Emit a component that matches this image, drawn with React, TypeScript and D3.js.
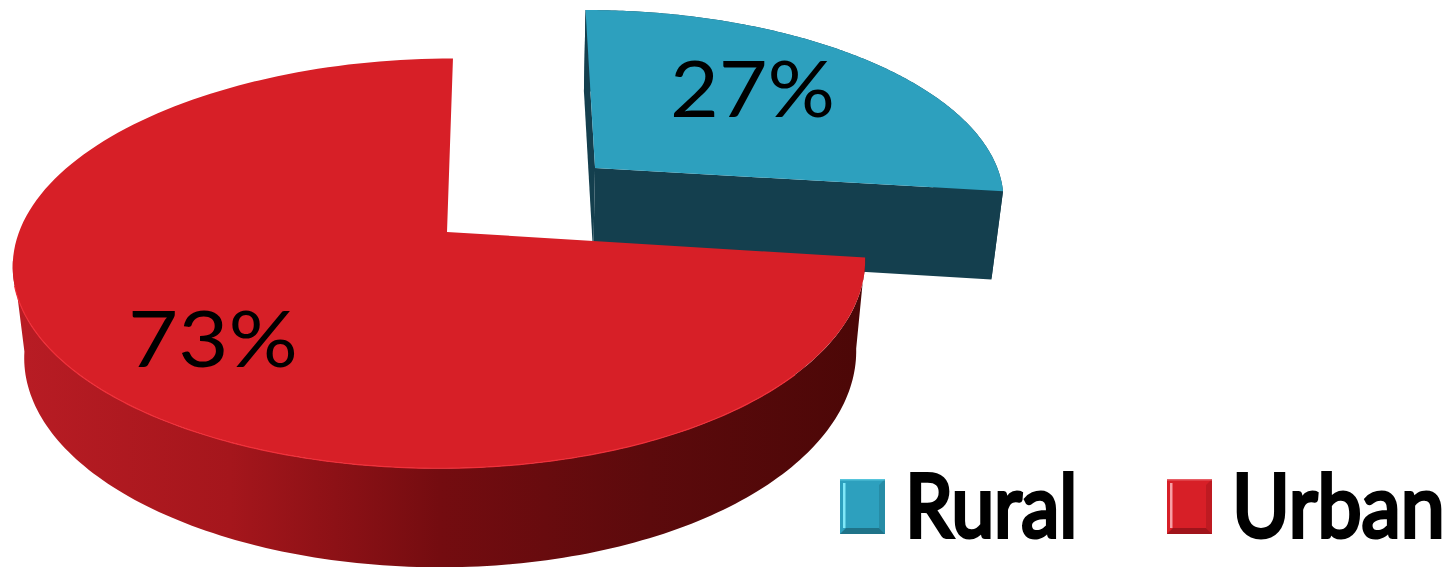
import React from "react";
import * as d3 from "d3";

// Population split shown as an exploded 3D pie.
const categories = ["Rural", "Urban"];
const shares = [27, 73];
const shareLabels = ["27%", "73%"];
const topColors = ["#2da0be", "#d71f27"];
const bevelLight = ["#7fe8f8", "#f7a0a5"];
const bevelDark = ["#1f7389", "#a0141b"];

const WIDTH = 1451;
const HEIGHT = 567;
const FONT = "Lato, 'Open Sans', sans-serif";

// Projection of the pie's flat disc onto the screen.
const DEPTH = 0.153; // how strongly the far rim shrinks
const TOP_HORIZON = -1076;
const TOP_SCALE = 1308;
const BOTTOM_HORIZON = -1036;
const BOTTOM_SCALE = 1358;
const BOTTOM_SHRINK = 0.976;

// Each slice has its own displacement from the explosion.
const sliceOffsets = [
  { vanish: 520, radius: 423, u: 78.9, depth: 0.0514, skew: 0 },
  { vanish: 492, radius: 420.3, u: -45, depth: 0, skew: 0.0162 },
];
const labelAnchors = [
  { x: 752.5, baseline: 117, stretch: 1.08 },
  { x: 213, baseline: 367, stretch: 1.11 },
];
const legendAnchors = [
  { box: 840, text: 905, stretch: 0.87 },
  { box: 1167, text: 1232, stretch: 0.895 },
];

type Offset = { vanish: number; radius: number; u: number; depth: number; skew: number };

const projectTop = (a: number, r: number, o: Offset): [number, number] => {
  const d = 1 + o.depth + DEPTH * r * Math.cos(a);
  const xd = d + o.skew * r * Math.sin(a);
  return [o.vanish + (o.u + o.radius * r * Math.sin(a)) / xd, TOP_HORIZON + TOP_SCALE / d];
};

const projectBottom = (a: number, r: number, o: Offset): [number, number] => {
  const d = 1 + o.depth + DEPTH * r * Math.cos(a);
  const [x] = projectTop(a, r, o);
  return [o.vanish + (x - o.vanish) * BOTTOM_SHRINK, BOTTOM_HORIZON + BOTTOM_SCALE / d];
};

const arcAngles = (a0: number, a1: number) => {
  const n = 160;
  return d3.range(n + 1).map((i) => a0 + ((a1 - a0) * i) / n);
};

const line = d3.line<[number, number]>();

const Swatch = ({ x, i }: { x: number; i: number }) => {
  const y = 479;
  const w = 45;
  const h = 55;
  const b = 6;
  return (
    <g>
      <rect x={x} y={y} width={w} height={h} fill={topColors[i]} />
      <path d={line([[x + w, y], [x + w - b, y + b], [x + w - b, y + h - b], [x + w, y + h]])!} fill={bevelDark[i]} opacity={0.45} />
      <path d={line([[x, y + h], [x + b, y + h - b], [x + w - b, y + h - b], [x + w, y + h]])!} fill={bevelDark[i]} />
      <rect x={x + 3} y={y + 4} width={2.5} height={h - 10} fill={bevelLight[i]} />
      <rect x={x} y={y} width={w} height={1.5} fill={bevelLight[i]} opacity={0.5} />
    </g>
  );
};

export default function App() {
  const slices = d3.pie<number>().sort(null)(shares);

  const shapes = slices.map((s, i) => {
    const o = sliceOffsets[i];
    const angles = arcAngles(s.startAngle, s.endAngle);
    const topRim = angles.map((a) => projectTop(a, 1, o));
    const top = line([projectTop(0, 0, o), ...topRim])! + "Z";
    return { s, o, angles, topRim, top };
  });

  const blue = shapes[0];
  const red = shapes[1];

  // Rural: outer band plus the two cut faces.
  const blueBand =
    line([
      ...blue.topRim,
      ...[...blue.angles].reverse().map((a) => projectBottom(a, 1, blue.o)),
    ])! + "Z";
  const blueFront =
    line([
      projectTop(blue.s.endAngle, 0, blue.o),
      projectTop(blue.s.endAngle, 1, blue.o),
      projectBottom(blue.s.endAngle, 1, blue.o),
      projectBottom(blue.s.endAngle, 0, blue.o),
    ])! + "Z";
  const blueSide =
    line([
      projectTop(blue.s.startAngle, 1, blue.o),
      projectTop(blue.s.startAngle, 0, blue.o),
      projectBottom(blue.s.startAngle, 0, blue.o),
      projectBottom(blue.s.startAngle, 1, blue.o),
    ])! + "Z";

  // Urban: only the front of the rim can be seen.
  const wallEnd = (262 / 180) * Math.PI;
  const wallAngles = arcAngles(red.s.startAngle, wallEnd);
  const redWallPoints: [number, number][] = [
    ...wallAngles.map((a) => projectTop(a, 1, red.o)),
    ...[...wallAngles].reverse().map((a) => projectBottom(a, 1, red.o)),
  ];
  const rimHighlight = line(
    arcAngles((130 / 180) * Math.PI, (255 / 180) * Math.PI).map((a) => projectTop(a, 1, red.o))
  )!;

  return (
    <svg
      width={WIDTH}
      height={HEIGHT}
      viewBox={`0 0 ${WIDTH} ${HEIGHT}`}
      style={{ position: "absolute", left: 0, top: 0, background: "#fff" }}
    >
      <defs>
        <linearGradient id="urbanWall" gradientUnits="userSpaceOnUse" x1={20} x2={860} y1={0} y2={0}>
          <stop offset="0" stopColor="#b81c24" />
          <stop offset="0.25" stopColor="#a5161c" />
          <stop offset="0.5" stopColor="#740c10" />
          <stop offset="0.75" stopColor="#5c0a0c" />
          <stop offset="1" stopColor="#4c0707" />
        </linearGradient>
      </defs>

      <path d={blueBand} fill="#143f4e" />
      <path d={blueSide} fill="#143f4e" />
      <path d={blueFront} fill="#143f4e" />
      <path d={blue.top} fill={topColors[0]} />

      <path d={line(redWallPoints)! + "Z"} fill="url(#urbanWall)" />
      <path d={red.top} fill={topColors[1]} />
      <path d={rimHighlight} fill="none" stroke="#f0303a" strokeWidth={1.2} />

      {shareLabels.map((t, i) => (
        <text
          key={t}
          transform={`translate(${labelAnchors[i].x},${labelAnchors[i].baseline}) scale(${labelAnchors[i].stretch},1)`}
          textAnchor="middle"
          fontFamily={FONT}
          fontSize={78}
          fill="#000"
        >
          {t}
        </text>
      ))}

      {categories.map((c, i) => (
        <g key={c}>
          <Swatch x={legendAnchors[i].box} i={i} />
          <text
            transform={`translate(${legendAnchors[i].text},536.5) scale(${legendAnchors[i].stretch},1)`}
            fontFamily={FONT}
            fontWeight={400}
            fontSize={88}
            stroke="#000"
            strokeWidth={4}
            fill="#000"
          >
            {c}
          </text>
        </g>
      ))}
    </svg>
  );
}
